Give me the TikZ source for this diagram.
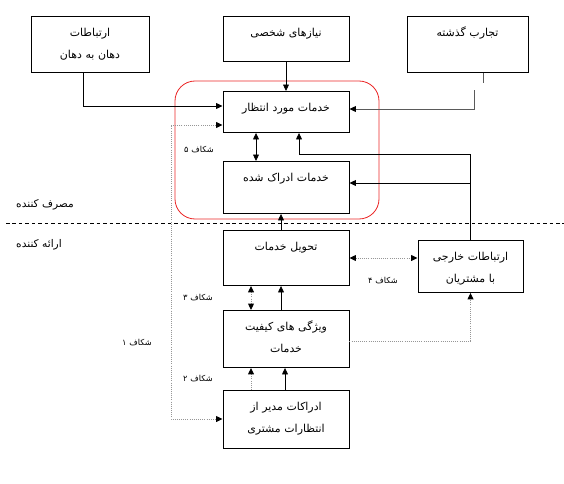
\documentclass[tikz,border=0pt]{standalone}
\usepackage{fontspec}
\usepackage{tikz}
\usetikzlibrary{
    arrows.meta,
    calc
}
\TeXXeTstate=1
\newfontfamily\fa[Script=Arabic]{DejaVu Sans}
\newcommand{\fatx}[1]{\beginR #1\endR}
\tikzset{
  block/.style   = {draw, line width=0.8pt, anchor=north, align=center,
                    inner xsep=0pt, inner ysep=0pt, text width=107.1pt,
                    text height=17pt, font=\fa\fontsize{9.3}{19}\selectfont},
  gaplbl/.style  = {font=\fa\fontsize{7}{8}\selectfont},
  sidelbl/.style = {font=\fa\fontsize{9}{10}\selectfont},
  arr/.style     = {-{Triangle[length=5.5pt,width=5pt,color=black]}, line width=0.7pt},
  arrb/.style    = {{Triangle[length=5.5pt,width=5pt]}-{Triangle[length=5.5pt,width=5pt]}, line width=0.7pt},
  arrg/.style    = {-{Triangle[length=5.5pt,width=5pt,color=black]}, gapGray, densely dotted, line width=0.8pt},
  arrgb/.style   = {{Triangle[length=5.5pt,width=5pt,color=black]}-{Triangle[length=5.5pt,width=5pt,color=black]},
                    gapGray, densely dotted, line width=0.8pt}
}
\definecolor{gapGray}{RGB}{150,150,150}
\definecolor{pastGray}{RGB}{90,90,90}
\definecolor{zoneRed}{RGB}{235,40,40}

\begin{document}
\begin{tikzpicture}[x=0.85pt, y=-0.85pt]
\useasboundingbox (0,0) rectangle (564,483);
\draw[zoneRed, line width=0.7pt, rounded corners=17pt] (175,81) rectangle (379,219);
\draw[dash pattern=on 3pt off 2.5pt, line width=0.6pt] (6,223) -- (564,223);
\node[sidelbl] (cons) at (45,205) {\fatx{مصرف کننده}};
\node[sidelbl] (prov) at (39,245) {\fatx{ارائه کننده}};
\node[block, text width=100.3pt, text depth=30.6pt] (wom) at (90,16) {\fatx{ارتباطات}\\\fatx{دهان به دهان}};
\node[block, text depth=21.25pt] (needs) at (286,16) {\fatx{نیازهای شخصی}};
\node[block, text width=102.85pt, text depth=30.6pt] (past) at (467.5,16) {\fatx{تجارب گذشته}};
\node[block, text depth=17.85pt] (exp) at (286,91) {\fatx{خدمات مورد انتظار}};
\node[block, text depth=27.2pt] (perc) at (286,161) {\fatx{خدمات ادراک شده}};
\node[block, text depth=29.75pt] (deliv) at (286,230) {\fatx{تحویل خدمات}};
\node[block, text width=89.25pt, text depth=27.2pt] (ext) at (470.5,240) {\fatx{ارتباطات خارجی}\\\fatx{با مشتریان}};
\node[block, text depth=31.45pt] (qual) at (286,310) {\fatx{ویژگی های کیفیت}\\\fatx{خدمات}};
\node[block, text depth=32.3pt] (mgr) at (286,390) {\fatx{ادراکات مدیر از}\\\fatx{انتظارات مشتری}};
\coordinate (pastin) at (474,90);
\draw[arr] (wom.south -| 83,0) |- (exp.west |- 0,106);
\draw[arr] (needs) -- (exp);
\draw[pastGray, line width=0.8pt] (past.south -| 483,0) -- ++(0,10);
\draw[arr, pastGray] (pastin) |- (exp.east |- 0,109);
\draw[arrb] (exp.south -| 256,0) -- (perc.north -| 256,0);
\draw[arr] (ext.north) |- (299,154) -- (exp.south -| 299,0);
\draw[arr] (ext.north |- 0,183) -- (perc.east |- 0,183);
\draw[arr] (deliv.north -| 281,0) -- (perc.south -| 281,0);
\draw[arrgb] (exp.west |- 0,125) -| (171,419) -- (mgr.west |- 0,419);
\draw[arrgb] (deliv.east |- 0,258) -- (ext.west |- 0,258);
\draw[arrgb] (deliv.south -| 251,0) -- (qual.north -| 251,0);
\draw[arr] (qual.north -| 281,0) -- (deliv.south -| 281,0);
\draw[arrg] (qual.east |- 0,341) -| (ext.south);
\draw[arrg] (mgr.north -| 251,0) -- (qual.south -| 251,0);
\draw[arr] (mgr.north -| 285,0) -- (qual.south -| 285,0);
\node[gaplbl] (gap5) at (199,150) {\fatx{شکاف ۵}};
\node[gaplbl] (gap1) at (137,343) {\fatx{شکاف ۱}};
\node[gaplbl] (gap4) at (383,281) {\fatx{شکاف ۴}};
\node[gaplbl] (gap3) at (198,298) {\fatx{شکاف ۳}};
\node[gaplbl] (gap2) at (198,379) {\fatx{شکاف ۲}};
\end{tikzpicture}
\end{document}
